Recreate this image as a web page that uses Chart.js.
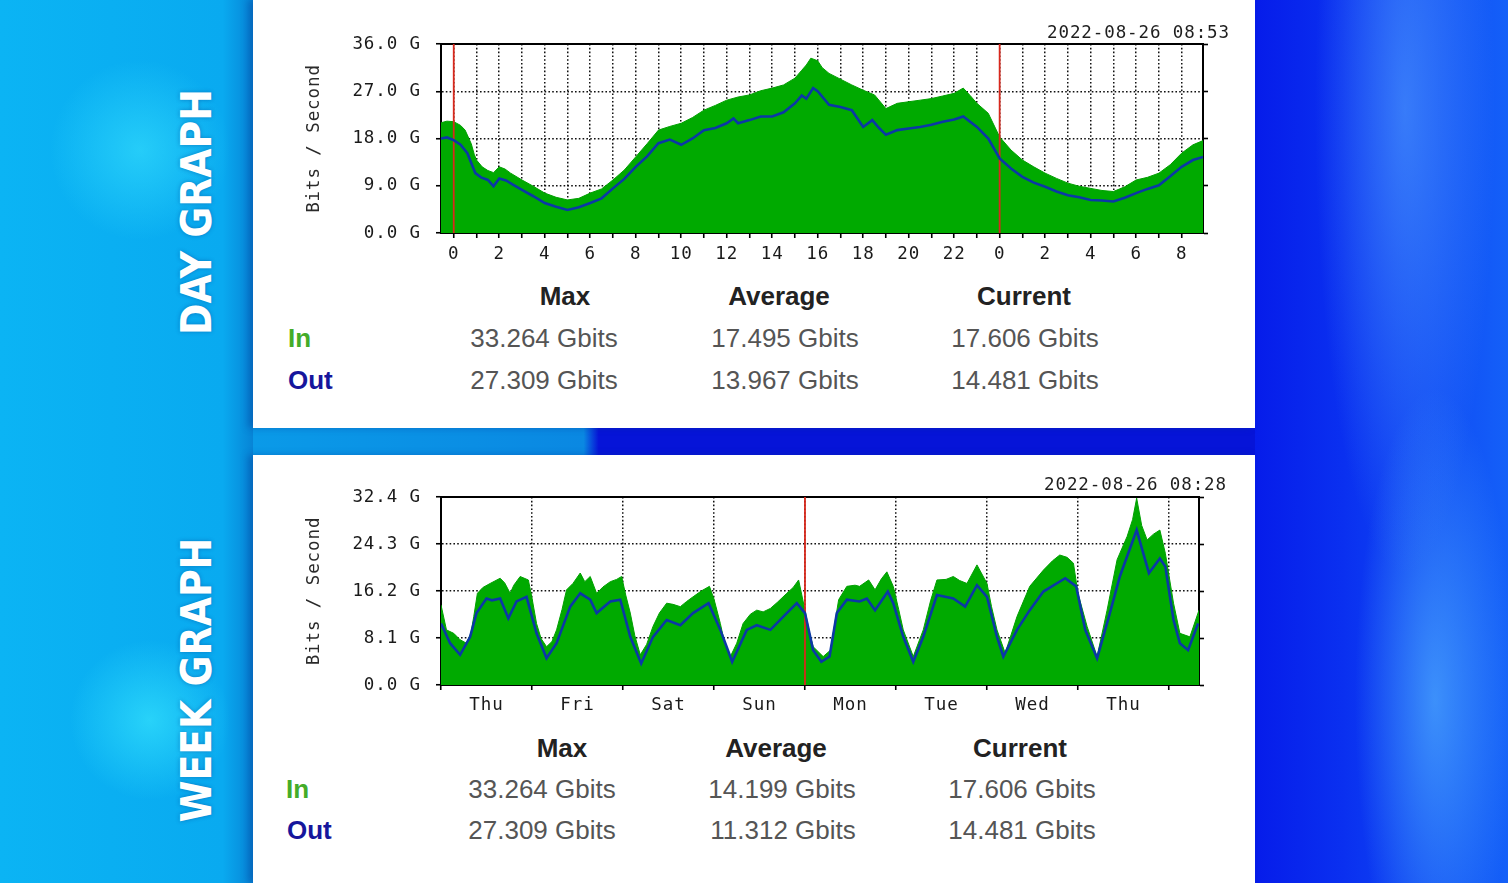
<!DOCTYPE html>
<html>
<head>
<meta charset="utf-8">
<script src="https://cdn.jsdelivr.net/npm/chart.js@4.4.1/dist/chart.umd.min.js"></script>
<style>
    html, body { margin: 0; padding: 0; }
    body {
        width: 1508px; height: 883px; overflow: hidden; position: relative;
        background: #0a7fe0;
        font-family: 'Liberation Sans', Arial, sans-serif;
    }
    .bg-left {
        position: absolute; left: 0; top: 0; width: 253px; height: 883px;
        background:
            radial-gradient(circle at 140px 150px, rgba(60, 230, 255, 0.55) 0, rgba(60, 230, 255, 0) 90px),
            radial-gradient(circle at 150px 720px, rgba(60, 235, 255, 0.6) 0, rgba(60, 235, 255, 0) 80px),
            linear-gradient(90deg, #0bb4f4 0%, #09aaf0 88%, #0784d6 100%);
    }
    .bg-right {
        position: absolute; left: 1255px; top: 0; width: 253px; height: 883px;
        background:
            radial-gradient(ellipse at 150px 110px, rgba(90, 170, 255, 0.55) 0, rgba(90, 170, 255, 0) 90px),
            radial-gradient(ellipse at 180px 700px, rgba(90, 190, 255, 0.6) 0, rgba(90, 190, 255, 0) 80px),
            linear-gradient(90deg, #061cea 0%, #0a30f0 35%, #1460f8 100%);
    }
    .strip {
        position: absolute; left: 253px; top: 428px; width: 1002px; height: 27px;
        background: linear-gradient(90deg, #0a9ae8 0%, #0a88e2 33%, #0614d8 34.5%, #0614d8 100%);
    }
    .panel {
        position: absolute; left: 253px; width: 1002px; background: #fff;
        box-shadow: -5px 0 7px rgba(0, 50, 140, 0.35);
    }
    .side {
        position: absolute; left: 197px; color: #fff;
        font-family: 'DejaVu Sans Condensed', 'DejaVu Sans', sans-serif; font-stretch: condensed;
        font-weight: bold; font-size: 42px; line-height: 1; white-space: nowrap;
        transform: translate(-50%, -50%) rotate(-90deg);
        text-shadow: 0 0 4px rgba(0, 60, 140, 0.45);
    }
    .stamp {
        position: absolute; font-family: 'DejaVu Sans Mono', monospace; font-size: 17.5px;
        letter-spacing: 0.9px; color: #1e1e1e; transform: translateY(-50%); white-space: nowrap;
    }
    .cell {
        position: absolute; font-size: 26px; color: #555; white-space: nowrap;
        transform: translate(-50%, -50%);
    }
    .head { font-weight: bold; color: #222; }
    .rowname { position: absolute; font-size: 26px; font-weight: bold; transform: translateY(-50%); }
    .in { color: #44ac28; }
    .out { color: #16169c; }
    canvas { position: absolute; left: 253px; }
</style>
</head>
<body>
<div class="bg-left"></div>
<div class="bg-right"></div>
<div class="strip"></div>
<div class="panel" style="top:0; height:428px;"></div>
<div class="panel" style="top:455px; height:428px;"></div>

<div class="side" style="top:212px;">DAY GRAPH</div>
<div class="side" style="top:680px;">WEEK GRAPH</div>

<canvas id="dayChart" width="1002" height="275" style="top:0;"></canvas>
<canvas id="weekChart" width="1002" height="275" style="top:455px;"></canvas>

<div class="stamp" style="right:278px; top:32px;">2022-08-26 08:53</div>
<div class="stamp" style="right:281px; top:484px;">2022-08-26 08:28</div>

<!-- Day stats -->
<div class="cell head" style="left:565px; top:296px;">Max</div>
<div class="cell head" style="left:779px; top:296px;">Average</div>
<div class="cell head" style="left:1024px; top:296px;">Current</div>
<div class="rowname in" style="left:288px; top:338px;">In</div>
<div class="rowname out" style="left:288px; top:380px;">Out</div>
<div class="cell" style="left:544px; top:338px;">33.264 Gbits</div>
<div class="cell" style="left:785px; top:338px;">17.495 Gbits</div>
<div class="cell" style="left:1025px; top:338px;">17.606 Gbits</div>
<div class="cell" style="left:544px; top:380px;">27.309 Gbits</div>
<div class="cell" style="left:785px; top:380px;">13.967 Gbits</div>
<div class="cell" style="left:1025px; top:380px;">14.481 Gbits</div>

<!-- Week stats -->
<div class="cell head" style="left:562px; top:748px;">Max</div>
<div class="cell head" style="left:776px; top:748px;">Average</div>
<div class="cell head" style="left:1020px; top:748px;">Current</div>
<div class="rowname in" style="left:286px; top:789px;">In</div>
<div class="rowname out" style="left:287px; top:830px;">Out</div>
<div class="cell" style="left:542px; top:789px;">33.264 Gbits</div>
<div class="cell" style="left:782px; top:789px;">14.199 Gbits</div>
<div class="cell" style="left:1022px; top:789px;">17.606 Gbits</div>
<div class="cell" style="left:542px; top:830px;">27.309 Gbits</div>
<div class="cell" style="left:783px; top:830px;">11.312 Gbits</div>
<div class="cell" style="left:1022px; top:830px;">14.481 Gbits</div>

<script>
// Day graph data (x = hours from midnight of the previous day, y = Gbit/s)
const dayInHours = [-0.56, -0.3, 0, 0.3, 0.5, 0.77, 0.9, 1, 1.25, 1.5, 1.75, 2, 2.25, 2.5, 3, 3.5, 4, 4.5, 5, 5.5,
    6, 6.5, 7, 7.5, 8, 8.5, 9, 9.5, 10, 10.5, 11, 11.5, 12, 12.5, 13, 13.5, 14, 14.5, 15, 15.3,
    15.5, 15.7, 16, 16.2, 16.5, 17, 17.5, 18, 18.5, 19, 19.5, 20, 20.5, 21, 21.5, 22, 22.4, 22.7, 23, 23.5,
    24, 24.5, 25, 25.5, 26, 26.5, 27, 27.5, 28, 28.5, 29, 29.5, 30, 30.5, 31, 31.5, 32, 32.5, 32.94];
const dayInValues = [21.0, 21.3, 21.2, 20.5, 19.6, 17.0, 15.0, 13.9, 12.6, 11.9, 11.5, 12.6, 12.2, 11.4, 10.1, 8.9, 7.6, 6.8, 6.3, 6.6,
    7.6, 8.4, 10.1, 12.0, 14.5, 17.0, 19.6, 20.3, 20.9, 22.0, 23.4, 24.3, 25.3, 25.9, 26.3, 27.1, 27.6, 28.2, 29.5, 31.0,
    32.0, 33.3, 32.8, 31.5, 30.4, 29.3, 28.2, 27.2, 26.3, 23.7, 24.7, 25.0, 25.3, 25.6, 26.1, 26.6, 27.6, 26.2, 24.7, 22.8,
    18.3, 15.8, 13.9, 12.6, 11.4, 10.4, 9.5, 8.9, 8.5, 8.1, 7.9, 8.8, 10.1, 10.6, 11.4, 13.0, 15.2, 16.8, 17.6];
const dayOutHours = [-0.56, -0.3, 0, 0.3, 0.6, 0.8, 0.95, 1.2, 1.5, 1.75, 2, 2.3, 2.6, 3, 3.5, 4, 4.5, 5, 5.5, 6,
    6.5, 7, 7.5, 8, 8.5, 9, 9.5, 10, 10.5, 11, 11.5, 12, 12.3, 12.5, 13, 13.5, 14, 14.5, 15, 15.3,
    15.5, 15.8, 16, 16.5, 17, 17.5, 18, 18.4, 18.7, 19, 19.5, 20, 20.5, 21, 21.5, 22, 22.4, 23, 23.5, 24,
    24.5, 25, 25.5, 26, 26.5, 27, 27.5, 28, 28.5, 29, 29.5, 30, 30.5, 31, 31.5, 32, 32.5, 32.94];
const dayOutValues = [18.0, 18.2, 17.7, 16.8, 15.2, 13.0, 11.4, 10.6, 10.1, 8.9, 10.4, 10.0, 9.2, 8.2, 7.0, 5.7, 5.0, 4.4, 4.9, 5.7,
    6.6, 8.5, 10.3, 12.6, 14.6, 17.1, 17.8, 16.8, 18.0, 19.6, 20.0, 20.9, 21.8, 20.9, 21.5, 22.2, 22.2, 23.0, 24.7, 26.2,
    25.6, 27.6, 27.0, 24.4, 24.0, 23.4, 20.2, 21.5, 20.0, 18.7, 19.6, 19.9, 20.2, 20.6, 21.2, 21.6, 22.2, 20.2, 18.0, 14.2,
    12.3, 10.7, 9.6, 8.8, 7.9, 7.2, 6.8, 6.3, 6.2, 6.0, 6.7, 7.6, 8.4, 9.1, 10.8, 12.6, 13.9, 14.5];
const dayYTicks = [0, 9, 18, 27, 36];
const dayHourTicks = [0, 1, 2, 3, 4, 5, 6, 7, 8, 9, 10, 11, 12, 13, 14, 15, 16, 17, 18, 19, 20, 21, 22, 23,
    24, 25, 26, 27, 28, 29, 30, 31, 32];
const dayMidnights = [0, 24];

// Week graph data (x = days from Thursday 00:00, y = Gbit/s)
const weekInDays = [0, 0.06, 0.14, 0.21, 0.28, 0.33, 0.36, 0.4, 0.46, 0.54, 0.65, 0.7, 0.76, 0.8, 0.87, 0.96, 1, 1.05, 1.1, 1.16,
    1.22, 1.27, 1.33, 1.38, 1.45, 1.53, 1.58, 1.64, 1.71, 1.78, 1.86, 1.93, 1.985, 2.03, 2.08, 2.13, 2.19, 2.26, 2.33, 2.4,
    2.48, 2.55, 2.63, 2.7, 2.77, 2.86, 2.95, 3, 3.07, 3.12, 3.18, 3.25, 3.32, 3.4, 3.47, 3.54, 3.62, 3.7, 3.8, 3.87,
    3.93, 4, 4.05, 4.09, 4.2, 4.28, 4.37, 4.46, 4.55, 4.6, 4.7, 4.77, 4.84, 4.9, 4.97, 5.03, 5.08, 5.19, 5.3, 5.38,
    5.45, 5.55, 5.63, 5.7, 5.78, 5.89, 6, 6.05, 6.11, 6.2, 6.33, 6.47, 6.62, 6.72, 6.8, 6.88, 6.95, 7, 7.1, 7.21,
    7.32, 7.43, 7.54, 7.6, 7.645, 7.7, 7.76, 7.83, 7.9, 7.96, 8.05, 8.12, 8.23, 8.33];
const weekInValues = [13.8, 9.5, 8.9, 7.8, 7.2, 9.0, 11.8, 15.8, 16.8, 17.5, 18.4, 17.6, 15.8, 17.2, 18.7, 18.1, 15.0, 10.6, 8.0, 6.6,
    7.5, 9.5, 13.0, 16.4, 17.5, 19.3, 17.8, 18.7, 15.8, 16.9, 17.8, 18.2, 18.7, 15.5, 12.4, 8.5, 5.2, 7.0, 10.1, 12.4,
    14.1, 13.9, 13.5, 14.4, 15.2, 16.2, 17.0, 14.8, 10.6, 7.0, 4.9, 7.2, 10.6, 12.2, 12.9, 12.6, 13.2, 14.3, 15.8, 16.8,
    18.1, 12.9, 9.0, 6.6, 4.9, 6.0, 14.7, 17.0, 17.2, 17.0, 18.1, 16.4, 18.3, 19.5, 17.0, 13.0, 9.5, 4.9, 9.5, 14.5,
    18.1, 18.2, 18.7, 18.0, 17.5, 20.7, 17.5, 13.5, 9.5, 5.5, 11.8, 17.0, 19.8, 21.4, 22.4, 22.0, 21.0, 15.8, 10.1, 4.9,
    12.9, 21.6, 25.6, 28.5, 32.2, 27.5, 25.0, 26.0, 26.7, 22.7, 14.1, 8.9, 8.3, 12.9];
const weekOutDays = [0, 0.1, 0.21, 0.32, 0.39, 0.5, 0.56, 0.65, 0.74, 0.83, 0.94, 1.05, 1.16, 1.27, 1.42, 1.53, 1.64, 1.71, 1.86, 1.97,
    2.08, 2.2, 2.33, 2.48, 2.63, 2.77, 2.94, 3.07, 3.2, 3.36, 3.47, 3.62, 3.8, 3.91, 4, 4.09, 4.18, 4.27, 4.35, 4.46,
    4.6, 4.68, 4.77, 4.91, 4.97, 5.08, 5.19, 5.3, 5.45, 5.63, 5.76, 5.89, 6, 6.11, 6.18, 6.33, 6.47, 6.62, 6.86, 6.98,
    7.08, 7.21, 7.34, 7.46, 7.645, 7.78, 7.9, 7.96, 8.05, 8.12, 8.21, 8.32];
const weekOutValues = [10.6, 7.2, 5.2, 8.3, 12.4, 14.9, 14.6, 14.9, 11.5, 14.4, 15.2, 8.9, 4.6, 7.2, 13.5, 15.8, 14.7, 12.4, 14.4, 14.7,
    8.3, 3.7, 8.3, 11.2, 10.3, 12.4, 14.1, 9.5, 4.0, 9.5, 10.3, 9.5, 12.4, 14.1, 12.4, 6.0, 4.0, 4.9, 12.4, 14.7,
    14.4, 14.9, 12.9, 16.1, 14.1, 8.3, 4.0, 8.3, 15.5, 14.9, 13.5, 17.2, 15.2, 8.3, 4.9, 9.5, 12.9, 16.1, 18.4, 17.0,
    9.5, 4.6, 11.8, 18.7, 26.7, 19.3, 21.8, 20.4, 11.2, 7.2, 6.0, 10.6];
const weekYTicks = [0, 8.1, 16.2, 24.3, 32.4];
const weekLabelDays = [0.5, 1.5, 2.5, 3.5, 4.5, 5.5, 6.5, 7.5];
const weekDayNames = ['Thu', 'Fri', 'Sat', 'Sun', 'Mon', 'Tue', 'Wed', 'Thu'];
const weekMarkers = [4];

// Styling
const monoFont = { family: "'DejaVu Sans Mono', monospace", size: 17.5 };
const inkColor = '#1a1a1a';
const inGreen = '#00aa00';
const outBlue = '#0b38a6';
const markerRed = '#d8281c';

// MRTG text is wide, so space the letters a little
const letterSpacing = {
    id: 'letterSpacing',
    beforeLayout(chart) { chart.ctx.letterSpacing = '0.9px'; },
    beforeDraw(chart) { chart.ctx.letterSpacing = '0.9px'; }
};

function toPoints(xs, ys) {
    return xs.map((x, i) => ({ x: x, y: ys[i] }));
}

function markerDataset(x, top) {
    return {
        data: [{ x: x, y: 0 }, { x: x, y: top }],
        borderColor: markerRed, borderWidth: 1.8, pointRadius: 0, fill: false, order: 2
    };
}

function buildTrafficChart(canvasId, o) {
    const tickLines = { tickLength: 5, tickColor: '#000', tickWidth: 1.6 };
    const dotted = { color: '#000', width: 2, dash: [1.6, 2.2] };

    return new Chart(document.getElementById(canvasId), {
        type: 'line',
        data: {
            datasets: [
                {
                    data: toPoints(o.inX, o.inY),
                    borderColor: '#00a000', borderWidth: 1, backgroundColor: inGreen,
                    fill: 'origin', pointRadius: 0, order: 3
                },
                ...o.markers.map(m => markerDataset(m, o.yMax)),
                {
                    data: toPoints(o.outX, o.outY),
                    borderColor: outBlue, borderWidth: 2.6, fill: false, pointRadius: 0, order: 1
                }
            ]
        },
        options: {
            responsive: false,
            animation: false,
            events: [],
            layout: { padding: o.padding },
            elements: { line: { tension: 0 } },
            plugins: { legend: { display: false }, tooltip: { enabled: false } },
            scales: {
                x: {
                    type: 'linear', min: o.xMin, max: o.xMax, z: 1,
                    afterBuildTicks: s => { s.ticks = o.xTicks.map(v => ({ value: v })); },
                    afterFit: s => { s.height = o.xHeight; },
                    ticks: {
                        autoSkip: false, maxRotation: 0, padding: o.xPad,
                        color: inkColor, font: monoFont, callback: o.xLabel
                    },
                    grid: { color: '#111', lineWidth: 1.5, offset: o.xOffset, ...tickLines },
                    border: dotted
                },
                y: {
                    min: 0, max: o.yMax, z: 1,
                    afterBuildTicks: s => { s.ticks = o.yTicks.map(v => ({ value: v })); },
                    afterFit: s => { s.width = 188; },
                    ticks: { padding: 15, color: inkColor, font: monoFont, callback: v => v.toFixed(1) + ' G' },
                    grid: { color: '#111', lineWidth: 1.5, ...tickLines },
                    border: dotted,
                    title: {
                        display: true, text: 'Bits / Second', color: '#2a2a2a',
                        font: monoFont, padding: { top: 51, bottom: 0 }
                    }
                },
                xTop: {
                    type: 'linear', position: 'top', min: o.xMin, max: o.xMax,
                    afterFit: s => { s.height = 12; },
                    ticks: { display: false },
                    grid: { display: false },
                    border: { color: '#000', width: 2 }
                },
                yRight: {
                    position: 'right', min: 0, max: o.yMax,
                    afterBuildTicks: s => { s.ticks = o.yTicks.map(v => ({ value: v })); },
                    afterFit: s => { s.width = 6; },
                    ticks: { display: false },
                    grid: { drawOnChartArea: false, color: '#000', ...tickLines },
                    border: { color: '#000', width: 2 }
                }
            }
        },
        plugins: [letterSpacing]
    });
}

// Day graph
const dayChart = buildTrafficChart('dayChart', {
    inX: dayInHours, inY: dayInValues, outX: dayOutHours, outY: dayOutValues,
    markers: dayMidnights, yMax: 36, yTicks: dayYTicks,
    xMin: -0.56, xMax: 32.94, xTicks: dayHourTicks, xOffset: false,
    xLabel: v => (v % 2 === 0 ? String(v % 24) : ''),
    xHeight: 40, xPad: 6,
    padding: { left: 0, top: 32, right: 46, bottom: 2 }
});

// Week graph
const weekChart = buildTrafficChart('weekChart', {
    inX: weekInDays, inY: weekInValues, outX: weekOutDays, outY: weekOutValues,
    markers: weekMarkers, yMax: 32.4, yTicks: weekYTicks,
    xMin: 0, xMax: 8.33, xTicks: weekLabelDays, xOffset: true,
    xLabel: (v, i) => weekDayNames[i],
    xHeight: 43, xPad: 5,
    padding: { left: 0, top: 30, right: 50, bottom: 2 }
});
</script>
</body>
</html>
